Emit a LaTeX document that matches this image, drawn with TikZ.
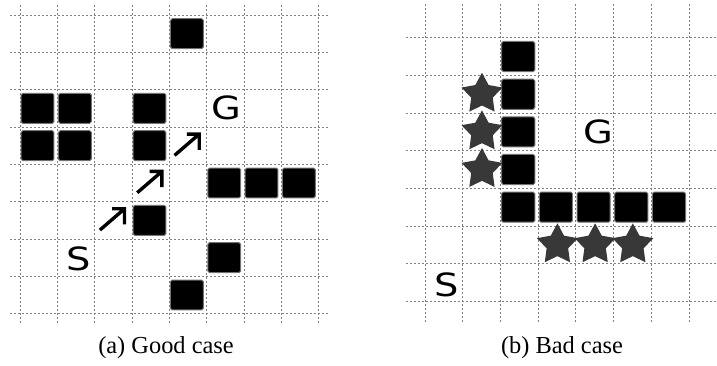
\documentclass[tikz,border=0pt]{standalone}
\usepackage{fontspec}
\setmainfont{Liberation Serif}
\newfontfamily\cellfont{DejaVu Sans}
\usetikzlibrary{shapes.geometric}

\tikzset{
  gridline/.style={black!50, line width=0.5pt, dash pattern=on 1pt off 1pt},
  wall/.style={fill=black, draw=black!55, line width=0.5pt, rounded corners=0.8pt},
  badstar/.style={star, star points=5, star point ratio=1.9, fill=black!78,
    inner sep=0pt, minimum size=21.5pt},
  movearrow/.style={line width=1.7pt},
  cellletter/.style={font=\cellfont\fontsize{16}{16}\selectfont, xscale=1.2, inner sep=0pt},
  caption/.style={font=\fontsize{12.2}{14}\selectfont, inner sep=0pt, anchor=base}
}

\begin{document}
\begin{tikzpicture}[x=0.5pt,y=0.5pt]
\useasboundingbox (0,0) rectangle (717,-365);

% (a) good case
\begin{scope}[shift={(20,-15)}, x=18.667pt, y=18.667pt]
\foreach \i in {0,...,8} \draw[gridline] (\i,0.27) -- (\i,-8.25);
\foreach \j in {0,...,8} \draw[gridline] (-0.27,-\j) -- (8.25,-\j);
\foreach \c/\r in {4/0,0/2,1/2,3/2,0/3,1/3,3/3,5/4,6/4,7/4,3/5,5/6,4/7}
  \draw[wall] (\c+0.03,-\r-0.1) rectangle (\c+0.91,-\r-0.9);
\node[cellletter] (goalA) at (5.53,-2.5) {G};
\node[cellletter] (startA) at (1.56,-6.52) {S};
\foreach \c/\r [count=\k] in {2/5,3/4,4/3} {
  \coordinate (m\k s) at (\c+0.14,-\r-0.76);
  \coordinate (m\k e) at (\c+0.8,-\r-0.19);
  \draw[movearrow] (m\k s) -- (m\k e) ++(-0.33,0) -- (m\k e) -- ++(0,-0.42);
}
\end{scope}

% (b) bad case
\begin{scope}[shift={(425,-37.7)}, x=18.86pt, y=18.83pt]
\foreach \i in {0,...,7} \draw[gridline] (\i,0.9) -- (\i,-7.54);
\foreach \j in {0,...,7} \draw[gridline] (-0.5,-\j) -- (7.75,-\j);
\foreach \c/\r in {2/0,2/1,2/2,2/3,2/4,3/4,4/4,5/4,6/4}
  \draw[wall] (\c+0.03,-\r-0.1) rectangle (\c+0.91,-\r-0.9);
\foreach \c/\r [count=\k] in {1/1,1/2,1/3,3/5,4/5,5/5}
  \node[badstar] (star\k) at (\c+0.51,-\r-0.5) {};
\node[cellletter] (goalB) at (4.6,-2.49) {G};
\node[cellletter] (startB) at (0.57,-6.56) {S};
\end{scope}

\node[caption] (capA) at (166,-353) {(a) Good case};
\node[caption] (capB) at (562,-353) {(b) Bad case};
\end{tikzpicture}
\end{document}
